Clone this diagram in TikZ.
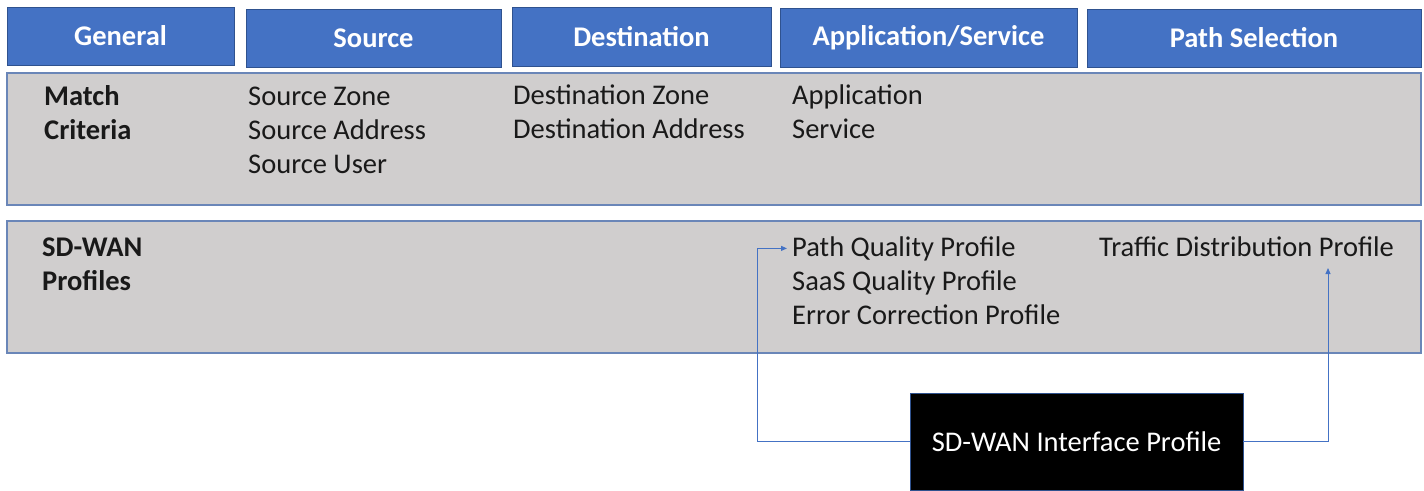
\documentclass[tikz,border=0pt]{standalone}
\usepackage{fontspec}
\setmainfont{Carlito}
\usepackage{tikz}
\usetikzlibrary{positioning, arrows.meta}

\definecolor{hdrblue}{HTML}{4472C4}
\definecolor{hdredge}{HTML}{2F528F}
\definecolor{bandgray}{HTML}{D0CECE}
\definecolor{bandedge}{HTML}{6A86B8}

\begin{document}
\begin{tikzpicture}[
    x=1pt, y=-1pt,
    hdr/.style={
      draw=hdredge, line width=0.8pt, fill=hdrblue, text=white,
      font=\fontsize{28.5}{34}\selectfont\bfseries, inner sep=0pt
    },
    band/.style={
      draw=bandedge, line width=1.2pt, fill=bandgray,
      minimum width=1414, minimum height=132, inner sep=0pt
    },
    txt/.style={
      anchor=base west, inner sep=0pt, text=black!90,
      font=\fontsize{28.5}{34}\selectfont
    },
    lbl/.style={txt, font=\fontsize{28.5}{34}\selectfont\bfseries},
    blackbox/.style={
      fill=black, draw=hdredge, line width=0.6pt, text=white,
      minimum width=333, minimum height=97, inner sep=0pt,
      font=\fontsize{28.5}{34}\selectfont
    },
    arr/.style={-{Triangle[length=6pt, width=5pt]}, line width=1pt, hdrblue},
  ]
    \useasboundingbox (0,0) rectangle (1424,490);

    % column headers
    \node[hdr, minimum width=227, minimum height=58] (hgen) at (120.5,36) {General};
    \node[hdr, minimum width=255, minimum height=58] (hsrc) at (373.5,38) {Source};
    \node[hdr, minimum width=259, minimum height=59] (hdst) at (641.5,36.5) {Destination};
    \node[hdr, minimum width=297, minimum height=59] (happ) at (928.5,37.5) {Application/Service};
    \node[hdr, minimum width=334, minimum height=58] (hpath) at (1254,38) {Path Selection};

    % rows
    \node[band] (match) at (714,139) {};
    \node[band] (sdwan) at (714,287) {};

    % match criteria
    \node[lbl] (mc1) at (44,105) {Match};
    \node[lbl] (mc2) at (44,139) {Criteria};
    \foreach \t [count=\i] in {Source Zone, Source Address, Source User}
      \node[txt] (src\i) at (248,71+34*\i) {\t};
    \foreach \t [count=\i] in {Destination Zone, Destination Address}
      \node[txt] (dst\i) at (513,70+34*\i) {\t};
    \foreach \t [count=\i] in {Application, Service}
      \node[txt] (app\i) at (792,70+34*\i) {\t};

    % sd-wan profiles
    \node[lbl] (sp1) at (42,256) {SD-WAN};
    \node[lbl] (sp2) at (42,290) {Profiles};
    \node[txt] (pqp) at (792,256) {Path Quality Profile};
    \node[txt] (sqp) at (792,290) {SaaS Quality Profile};
    \node[txt] (ecp) at (792,324) {Error Correction Profile};
    \node[txt] (tdp) at (1099,256) {Traffic Distribution Profile};
    \coordinate (tdpin) at (1328,268);

    % interface profile
    \node[blackbox] (iface) at (1076.5,441.5) {SD-WAN Interface Profile};

    \draw[arr, shorten >=5pt] (iface.west) -- ++(-152,0) |- (pqp.west);
    \draw[arr] (iface.east) -| (tdpin);
\end{tikzpicture}
\end{document}
